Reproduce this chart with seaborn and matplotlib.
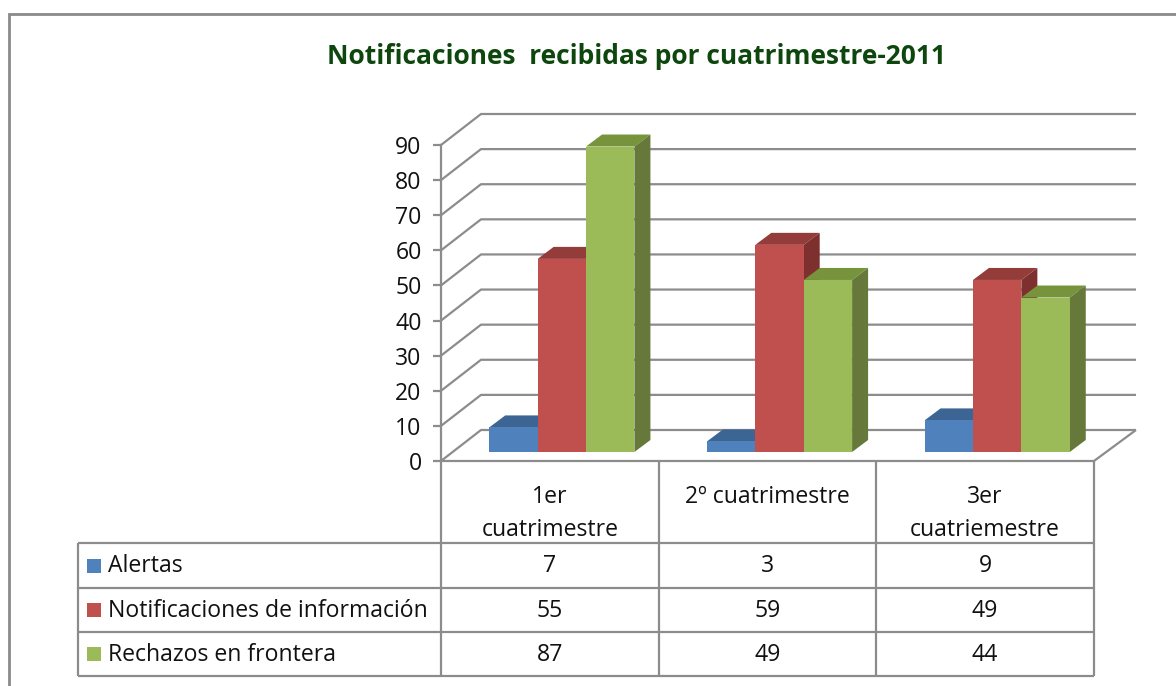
import matplotlib.pyplot as plt
import numpy as np
import pandas as pd
import seaborn as sns
from matplotlib.colors import to_hex
from matplotlib.lines import Line2D
from matplotlib.patches import Polygon, Rectangle
from matplotlib.transforms import IdentityTransform, ScaledTranslation

# data
categories = ['1er\ncuatrimestre', '2º cuatrimestre', '3er\ncuatriemestre']
series = ['Alertas', 'Notificaciones de información', 'Rechazos en frontera']
alertas = [7, 3, 9]
notificaciones = [55, 59, 49]
rechazos = [87, 49, 44]
y_ticks = list(range(0, 100, 10))
title = 'Notificaciones  recibidas por cuatrimestre-2011'

front_colors = ['#4F81BD', '#C0504D', '#9BBB59']
top_colors = ['#3C6594', '#943C3A', '#77933C']
side_colors = ['#2F4F75', '#7D302E', '#66793A']
grid_color = '#8C8C8C'

values = [alertas, notificaciones, rechazos]
df = pd.DataFrame(
    [(c, s, v[i]) for s, v in zip(series, values) for i, c in enumerate(categories)],
    columns=['cuatrimestre', 'serie', 'valor'],
)

sns.set_theme(style='white')
plt.rcParams['font.family'] = ['Open Sans', 'DejaVu Sans']
fs = 16.6

W, H = 1176, 686
fig = plt.figure(figsize=(W / 100, H / 100), dpi=100)
fig.patch.set_facecolor('white')

# front plane of the 3d box, in pixels from top-left
left, right, bottom, top = 441, 1094, 461, 145
ax = fig.add_axes([left / W, 1 - bottom / H, (right - left) / W, (bottom - top) / H])
ax.set_facecolor('none')

sns.barplot(
    data=df, x='cuatrimestre', y='valor', hue='serie',
    order=categories, hue_order=series, palette=front_colors,
    saturation=1, width=0.667, linewidth=0, legend=False, ax=ax,
)
ax.set_xlim(-0.5, 2.5)
ax.set_ylim(0, 90)
ax.set_yticks(y_ticks)
ax.set_xticks([])
ax.set_xlabel('')
ax.set_ylabel('')
for s in ['top', 'right', 'bottom']:
    ax.spines[s].set_visible(False)
ax.spines['left'].set_color(grid_color)
ax.spines['left'].set_linewidth(1.6)
ax.tick_params(axis='y', left=True, length=6, width=1.6, color=grid_color,
               pad=8, labelsize=fs, labelcolor='#111111')

tr = ax.transData
ident = IdentityTransform()
depth = (40, 31)       # full depth of walls
bar_front = (12, 9)    # where the bar fronts sit
bar_back = (28, 21)


def line(xs, ys, z=1, lw=1.6):
    ax.add_line(Line2D(xs, ys, transform=ident, color=grid_color, lw=lw,
                       clip_on=False, zorder=z, solid_capstyle='butt'))


# walls: diagonal side lines + back gridlines
x_left = tr.transform((-0.5, 0))[0]
x_right = tr.transform((2.5, 0))[0]
for v in y_ticks:
    y0 = tr.transform((0, v))[1]
    line([x_left, x_left + depth[0], x_right + depth[0] + 2],
         [y0, y0 + depth[1], y0 + depth[1]])
# floor right edge
y_floor = tr.transform((0, 0))[1]
line([x_right, x_right + depth[0] + 2], [y_floor, y_floor + depth[1]])

# 3d bars built on the seaborn patches
hex_front = [c.lower() for c in front_colors]
offset = ScaledTranslation(bar_front[0] / 100, bar_front[1] / 100, fig.dpi_scale_trans)
for k, p in enumerate(sorted(ax.patches, key=lambda p: p.get_x())):
    si = hex_front.index(to_hex(p.get_facecolor()))
    x0, y0 = tr.transform((p.get_x(), 0))
    x1, y1 = tr.transform((p.get_x() + p.get_width(), p.get_height()))
    fx0, fx1 = x0 + bar_front[0], x1 + bar_front[0]
    fy0, fy1 = y0 + bar_front[1], y1 + bar_front[1]
    bx0, bx1 = x0 + bar_back[0], x1 + bar_back[0]
    by0, by1 = y0 + bar_back[1], y1 + bar_back[1]
    ax.add_patch(Polygon([(fx0, fy1), (fx1, fy1), (bx1, by1), (bx0, by1)],
                         closed=True, transform=ident, fc=top_colors[si], ec='none',
                         clip_on=False, zorder=10 + 2 * k))
    ax.add_patch(Polygon([(fx1, fy0), (bx1, by0), (bx1, by1), (fx1, fy1)],
                         closed=True, transform=ident, fc=side_colors[si], ec='none',
                         clip_on=False, zorder=10 + 2 * k))
    p.set_transform(tr + offset)
    p.set_clip_on(False)
    p.set_zorder(11 + 2 * k)

# data table under the chart
edges = [tr.transform((e, 0))[0] for e in [-0.5, 0.5, 1.5, 2.5]]
centers = [tr.transform((i, 0))[0] for i in range(len(categories))]
table_left = 78
row_lines = [543, 588, 632, 676]
row_centers = [(a + b) / 2 for a, b in zip(row_lines[:-1], row_lines[1:])]
text_color = '#111111'

line([edges[0], edges[-1]], [H - bottom, H - bottom], z=20)
for e in edges:
    line([e, e], [H - bottom, H - row_lines[-1]], z=20)
line([table_left, table_left], [H - row_lines[0], H - row_lines[-1]], z=20)
for r in row_lines:
    line([table_left, edges[-1]], [H - r, H - r], z=20)

for cx, cat in zip(centers, categories):
    ax.text(cx, H - 485, cat, transform=ident, ha='center', va='top',
            fontsize=fs, color=text_color, linespacing=1.5)

for s, vals, rc, col in zip(series, values, row_centers, front_colors):
    ax.add_patch(Rectangle((87, H - rc - 7), 14, 14, transform=ident,
                           fc=col, ec='none', clip_on=False))
    ax.text(108, H - rc - 1, s, transform=ident, ha='left', va='center',
            fontsize=fs, color=text_color)
    for cx, v in zip(centers, vals):
        ax.text(cx, H - rc - 1, str(v), transform=ident, ha='center', va='center',
                fontsize=fs, color=text_color)

fig.text(636 / W, 1 - 56 / H, title, ha='center', va='center',
         fontsize=19, fontweight='bold', color='#0E470E')

# outer chart frame
fig.add_artist(Rectangle((9 / W, -0.1), 1.2, 1.1 - 14 / H, transform=fig.transFigure,
                         fill=False, ec='#8A8A8A', lw=2))

fig.savefig('out.png', dpi=100)
